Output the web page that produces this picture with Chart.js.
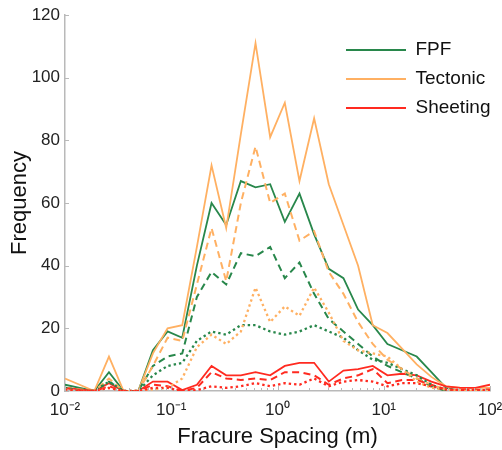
<!DOCTYPE html>
<html><head><meta charset="utf-8">
<script src="https://cdn.jsdelivr.net/npm/chart.js@4.4.1/dist/chart.umd.min.js"></script>
<style>html,body{margin:0;padding:0;background:#fff;}canvas{display:block;}</style>
</head><body>
<canvas id="c" width="502" height="450"></canvas>
<script>
// Bin centres (fracture spacing, m)
const spacing = [0.01, 0.01374, 0.01887, 0.02593, 0.03562, 0.04894, 0.06723, 0.09237, 0.1269, 0.1743,
  0.2395, 0.3290, 0.4520, 0.6210, 0.8532, 1.172, 1.610, 2.212, 3.039, 4.175,
  5.736, 7.880, 10.83, 14.87, 20.43, 28.07, 38.57, 52.98, 72.79, 100];

// Solid lines
const fpfSolid = [2, 1, 0, 6, 0, 0, 13, 19, 17, 40, 60, 53, 67, 65, 66, 54, 63, 50, 39, 36, 26, 21, 15, 13, 11, 6, 1, 0, 0, 0];
const tectonicSolid = [4, 2, 0, 11, 0, 0, 12, 20, 21, 46, 72, 52, 82, 111, 81, 92, 67, 87, 66, 53, 40, 21, 18.5, 13.5, 8.5, 4.5, 1.5, 1, 1, 1];
const sheetingSolid = [1, 0.5, 0, 2.5, 0, 0, 3, 3, 0.3, 2, 8, 5, 5, 6, 5, 8, 9, 9, 3, 6.5, 7, 8, 5, 5.5, 5, 3, 1.5, 1, 1, 2];
// Dashed lines
const fpfDashed = [1, 0.5, 0, 3, 0, 0, 8, 11, 12, 30, 38, 34, 44, 43, 46, 36, 41, 31, 23, 19, 15, 11, 8, 6, 4, 1.5, 0, 0, 0, 0];
const tectonicDashed = [1, 0.5, 0, 4, 0, 0, 8, 17, 16, 34, 52, 35, 60, 78, 60, 63, 48, 51, 38, 31, 22, 15, 10, 7, 4, 2, 0.5, 0, 0, 0];
const sheetingDashed = [1, 0.3, 0, 1.5, 0, 0, 2, 1.5, 0, 1, 6, 4, 3.5, 4, 3.5, 6, 6, 5, 2, 4, 5, 7, 2.5, 3.5, 3.5, 2, 0.5, 0.3, 0.3, 0.5];
// Dotted lines
const fpfDotted = [1, 0, 0, 3, 0, 0, 5, 8, 9, 16, 19, 18, 21, 21, 19, 18, 19, 21, 19, 17, 13, 10, 9, 7, 5, 2, 0, 0, 0, 0];
const tectonicDotted = [0.5, 0, 0, 1, 0, 0, 0.5, 1, 4, 14, 18, 15, 19, 33, 22, 27, 24, 33, 25, 16, 13, 12, 11, 7, 3, 1, 0.5, 0, 0, 0];
const sheetingDotted = [0.5, 0, 0, 1, 0, 0, 1, 1, 0, 0.3, 1.5, 1, 1.5, 2.5, 1.5, 2.5, 2, 4, 1.5, 3, 3.5, 3, 1.5, 2.5, 2.5, 1.5, 0.5, 0.3, 0.3, 0.3];

const seriesNames = ['FPF', 'Tectonic', 'Sheeting'];
const xTickValues = [0.01, 0.1, 1, 10, 100];
const xTickLabels = ['10\u207B\u00B2', '10\u207B\u00B9', '10\u2070', '10\u00B9', '10\u00B2'];
const xTitle = 'Fracure Spacing (m)';
const yTitle = 'Frequency';

const GREEN = 'rgb(40,135,75)';
const ORANGE = 'rgb(255,176,98)';
const RED = 'rgb(255,42,32)';
const AXIS = 'rgb(185,185,185)';
const FONT = "'Liberation Sans', Arial, Helvetica, sans-serif";

function series(label, values, color, dash, width) {
  return {
    label: label,
    data: spacing.map((s, i) => ({x: s, y: values[i]})),
    borderColor: color, backgroundColor: color,
    borderWidth: width, borderDash: dash,
    pointRadius: 0, pointHoverRadius: 0, fill: false, tension: 0
  };
}
const DASH = [7, 4.5];
const DOT = [2.4, 3];
const datasets = [
  series(seriesNames[0], fpfSolid, GREEN, [], 1.8),
  series(seriesNames[1], tectonicSolid, ORANGE, [], 1.8),
  series(seriesNames[2], sheetingSolid, RED, [], 1.8),
  series(seriesNames[0] + ' (dashed)', fpfDashed, GREEN, DASH, 2),
  series(seriesNames[1] + ' (dashed)', tectonicDashed, ORANGE, DASH, 2),
  series(seriesNames[2] + ' (dashed)', sheetingDashed, RED, DASH, 2),
  series(seriesNames[0] + ' (dotted)', fpfDotted, GREEN, DOT, 2.3),
  series(seriesNames[1] + ' (dotted)', tectonicDotted, ORANGE, DOT, 2.3),
  series(seriesNames[2] + ' (dotted)', sheetingDotted, RED, DOT, 2.3)
];
datasets.forEach((d, i) => { d.order = datasets.length - i; });

// inward tick marks like the original axes
const inwardTicks = {
  id: 'inwardTicks',
  afterDraw(chart) {
    const {ctx, chartArea: a, scales: {x, y}} = chart;
    ctx.save();
    ctx.strokeStyle = AXIS; ctx.lineWidth = 1;
    ctx.beginPath();
    y.ticks.forEach(t => {
      const py = Math.round(y.getPixelForValue(t.value)) + 0.5;
      ctx.moveTo(a.left, py); ctx.lineTo(a.left + 4, py);
    });
    for (let e = -2; e <= 2; e++) {
      for (let m = 1; m < 10; m++) {
        const v = m * Math.pow(10, e);
        if (v > 100) break;
        const px = Math.round(x.getPixelForValue(v)) + 0.5;
        const len = m === 1 ? 5 : 3;
        ctx.moveTo(px, a.bottom); ctx.lineTo(px, a.bottom - len);
      }
    }
    ctx.stroke();
    ctx.restore();
  }
};

// place the legend inside the plot, upper right
const legendPlacer = {
  id: 'legendPlacer',
  afterLayout(chart) {
    const lg = chart.legend;
    if (!lg) return;
    lg.left = 336; lg.top = 30.5; lg.right = 500; lg.bottom = 200;
  }
};

new Chart(document.getElementById('c'), {
  type: 'line',
  data: {datasets: datasets},
  plugins: [inwardTicks, legendPlacer],
  options: {
    responsive: false, animation: false, devicePixelRatio: 1,
    layout: {padding: {top: 15, right: 12, left: 0, bottom: 0}},
    plugins: {
      tooltip: {enabled: false},
      legend: {
        position: 'chartArea', align: 'start',
        labels: {
          boxWidth: 60, boxHeight: 2, padding: 10,
          color: '#111', font: {family: FONT, size: 19},
          generateLabels(chart) {
            const items = Chart.defaults.plugins.legend.labels.generateLabels(chart);
            return items.filter(it => it.datasetIndex < 3)
              .sort((p, q) => p.datasetIndex - q.datasetIndex)
              .map(it => Object.assign({}, it, {fillStyle: it.strokeStyle, lineWidth: 0, lineDash: []}));
          }
        }
      }
    },
    scales: {
      x: {
        type: 'logarithmic', min: 0.01, max: 100,
        afterFit(s) { s.height = 59; s.paddingLeft = 0; s.paddingRight = 0; },
        afterBuildTicks(s) { s.ticks = xTickValues.map(v => ({value: v})); },
        grid: {drawOnChartArea: false, drawTicks: false},
        border: {display: true, color: AXIS, width: 1.5},
        ticks: {
          autoSkip: false, maxRotation: 0, padding: 9, color: '#222',
          font: {family: FONT, size: 17},
          callback(v) { const i = xTickValues.indexOf(v); return i >= 0 ? xTickLabels[i] : ''; }
        },
        title: {display: true, text: xTitle, color: '#111', font: {family: FONT, size: 22}, padding: {top: 0, bottom: 0}}
      },
      y: {
        type: 'linear', min: 0, max: 120,
        afterFit(s) { s.width = 65; s.paddingTop = 0; s.paddingBottom = 0; },
        grid: {drawOnChartArea: false, drawTicks: false},
        border: {display: true, color: AXIS, width: 1.5},
        ticks: {stepSize: 20, padding: 5, color: '#222', font: {family: FONT, size: 17}},
        title: {display: true, text: yTitle, color: '#111', font: {family: FONT, size: 22}, padding: {top: 7, bottom: 0}}
      }
    }
  }
});
</script>
</body></html>
